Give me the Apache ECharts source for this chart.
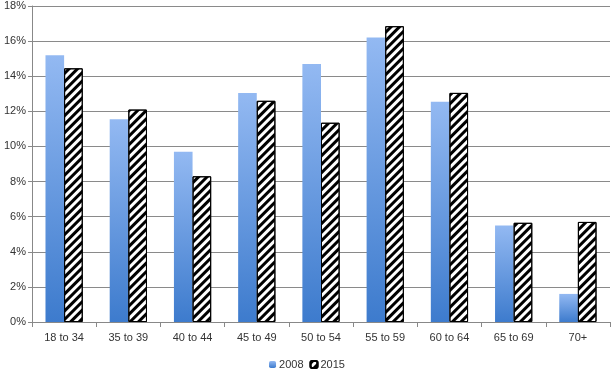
<!DOCTYPE html>
<html><head><meta charset="utf-8">
<script src="https://cdn.jsdelivr.net/npm/echarts@6/dist/echarts.min.js"></script>
<style>html,body{margin:0;padding:0;background:#fff}#c{width:614px;height:371px}</style>
</head><body><div id="c"></div>
<script>
var categories = ['18 to 34','35 to 39','40 to 44','45 to 49','50 to 54','55 to 59','60 to 64','65 to 69','70+'];
var values2008 = [15.2, 11.55, 9.7, 13.05, 14.7, 16.2, 12.55, 5.5, 1.6];
var values2015 = [14.45, 12.1, 8.3, 12.6, 11.35, 16.85, 13.05, 5.65, 5.7];
var yTicks = [0, 2, 4, 6, 8, 10, 12, 14, 16, 18];

var chart = echarts.init(document.getElementById('c'));
var font = 'Liberation Sans';
chart.setOption({
  animation: false,
  grid: {left: 32, right: 4, top: 6, bottom: 49, containLabel: false},
  legend: {
    top: 354, left: 'center', itemWidth: 7, itemHeight: 7, itemGap: 6,
    textStyle: {fontFamily: font, fontSize: 11, color: '#333', padding: [0, 0, 0, -2]},
    data: ['2008', '2015']
  },
  xAxis: {
    type: 'category', data: categories,
    axisLine: {lineStyle: {color: '#888'}},
    axisTick: {show: true, length: 5, lineStyle: {color: '#888'}},
    axisLabel: {fontFamily: font, fontSize: 11, color: '#333', margin: 10}
  },
  yAxis: {
    type: 'value', min: yTicks[0], max: yTicks[yTicks.length - 1], interval: 2,
    axisLine: {show: true, lineStyle: {color: '#888'}},
    axisTick: {show: true, length: 4, lineStyle: {color: '#888'}},
    splitLine: {lineStyle: {color: '#8a8a8a'}},
    axisLabel: {formatter: '{value}%', fontFamily: font, fontSize: 11, color: '#333', margin: 6}
  },
  series: [
    {
      name: '2008', type: 'bar', data: values2008, barWidth: '29%', barGap: '0%',
      itemStyle: {color: new echarts.graphic.LinearGradient(0, 0, 0, 1, [
        {offset: 0, color: '#93b9f2'}, {offset: 1, color: '#3d7bcd'}
      ])}
    },
    {
      name: '2015', type: 'bar', data: values2015, barWidth: '29%',
      itemStyle: {
        color: '#ffffff', borderColor: '#000', borderWidth: 1,
        decal: {symbol: 'rect', symbolSize: 1, dashArrayX: [1, 0], dashArrayY: [2.5, 2.5], rotation: -Math.PI / 4, color: '#000'}
      }
    }
  ]
});
</script></body></html>
